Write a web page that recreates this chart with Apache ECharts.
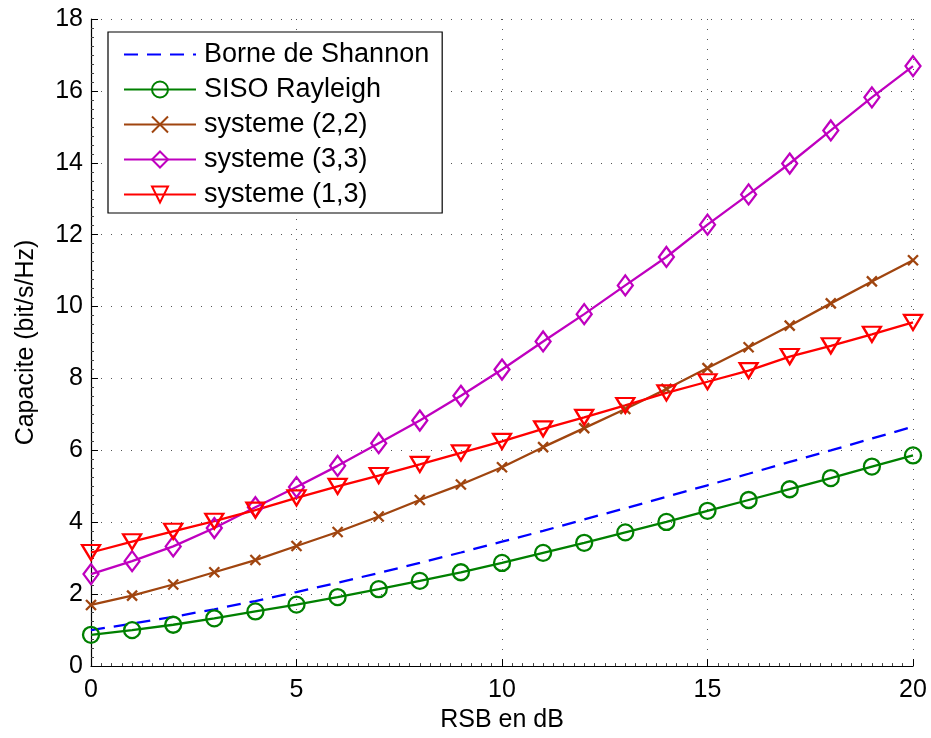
<!DOCTYPE html>
<html>
<head>
<meta charset="utf-8">
<script src="https://cdn.jsdelivr.net/npm/echarts@6/dist/echarts.min.js"></script>
<style>html,body{margin:0;padding:0;background:#fff}#c{width:931px;height:738px}</style>
</head>
<body>
<div id="c"></div>
<script>
const snr = [0,1,2,3,4,5,6,7,8,9,10,11,12,13,14,15,16,17,18,19,20];
const shannon = [1.00,1.18,1.37,1.58,1.81,2.06,2.32,2.59,2.87,3.16,3.46,3.76,4.08,4.39,4.71,5.03,5.35,5.68,6.00,6.33,6.66];
const siso = [0.87,1.00,1.15,1.33,1.52,1.71,1.92,2.14,2.37,2.61,2.87,3.15,3.43,3.72,4.01,4.32,4.62,4.92,5.23,5.55,5.86];
const sys22 = [1.70,1.96,2.27,2.61,2.95,3.34,3.73,4.16,4.62,5.05,5.53,6.09,6.62,7.15,7.71,8.29,8.87,9.47,10.09,10.70,11.29];
const sys33 = [2.56,2.92,3.33,3.84,4.42,4.98,5.57,6.20,6.83,7.52,8.25,9.03,9.79,10.59,11.38,12.28,13.12,13.98,14.90,15.82,16.69];
const sys13 = [3.16,3.46,3.75,4.03,4.34,4.68,5.00,5.30,5.61,5.93,6.25,6.60,6.92,7.25,7.60,7.91,8.22,8.61,8.91,9.23,9.56];
const names = ['Borne de Shannon','SISO Rayleigh','systeme (2,2)','systeme (3,3)','systeme (1,3)'];
const xTicks = [0,5,10,15,20];
const yTicks = [0,2,4,6,8,10,12,14,16,18];

const FONT = '"Liberation Sans", Arial, Helvetica, sans-serif';
const pairs = arr => snr.map((x,i)=>[x,arr[i]]);
function mk(name, data, color, symbol, size, dashed){
  return {
    name, type:'line', data:pairs(data), symbol, symbolSize:size,
    showSymbol: symbol!=='none',
    lineStyle:{color, width:2.3, type: dashed ? [14,9] : 'solid'},
    itemStyle:{color: 'rgba(0,0,0,0)', borderColor:color, borderWidth:2.3},
    emphasis:{disabled:true}, animation:false, z: 3
  };
}
const chart = echarts.init(document.getElementById('c'), null, {renderer:'canvas'});
const axisCommon = {
  axisLine:{show:true, onZero:false, lineStyle:{color:'#000', width:1.2}},
  axisTick:{show:true, inside:true, length:7, lineStyle:{color:'#000'}},
  minorTick:{show:true, length:3, lineStyle:{color:'#444'}},
  splitLine:{show:true, lineStyle:{color:'#555', width:1, type:[1,9]}},
  axisLabel:{color:'#000', fontSize:25, fontFamily:FONT},
  nameTextStyle:{color:'#000', fontSize:25, fontFamily:FONT}
};
chart.setOption({
  backgroundColor:'#fff',
  animation:false,
  grid:{left:91, right:18, top:19, bottom:71, containLabel:false},
  xAxis:Object.assign({}, axisCommon, {
    type:'value', min:xTicks[0], max:xTicks[xTicks.length-1], interval:xTicks[1]-xTicks[0],
    name:'RSB en dB', nameLocation:'middle', nameGap:27,
    minorTick:Object.assign({}, axisCommon.minorTick, {splitNumber:20}),
    axisLabel:Object.assign({}, axisCommon.axisLabel, {margin:12})
  }),
  yAxis:Object.assign({}, axisCommon, {
    type:'value', min:yTicks[0], max:yTicks[yTicks.length-1], interval:yTicks[1]-yTicks[0],
    name:'Capacite (bit/s/Hz)', nameLocation:'middle', nameGap:52,
    minorTick:Object.assign({}, axisCommon.minorTick, {splitNumber:8}),
    axisLabel:Object.assign({}, axisCommon.axisLabel, {margin:8})
  }),
  legend:{
    left:108, top:32, orient:'vertical',
    backgroundColor:'#fff', borderColor:'#000', borderWidth:1.2,
    padding:[9,13,5,15], itemWidth:72, itemHeight:20, itemGap:8,
    textStyle:{color:'#000', fontSize:27, fontFamily:FONT, padding:[0,0,0,3]},
    data:[{name:names[0], itemStyle:{opacity:0}}, names[1], names[2], names[3], names[4]],
    selectedMode:false
  },
  series:[
    mk(names[0], shannon, '#0000ff', 'none', 0, true),
    mk(names[1], siso, '#008000', 'circle', 16),
    mk(names[2], sys22, '#a0450f', 'path://M0,0L10,10M10,0L0,10', 10),
    mk(names[3], sys33, '#bf00bf', 'diamond', [15,20]),
    mk(names[4], sys13, '#ff0000', 'path://M0,0L10,0L5,8.66Z', [18,15])
  ]
});
</script>
</body>
</html>
